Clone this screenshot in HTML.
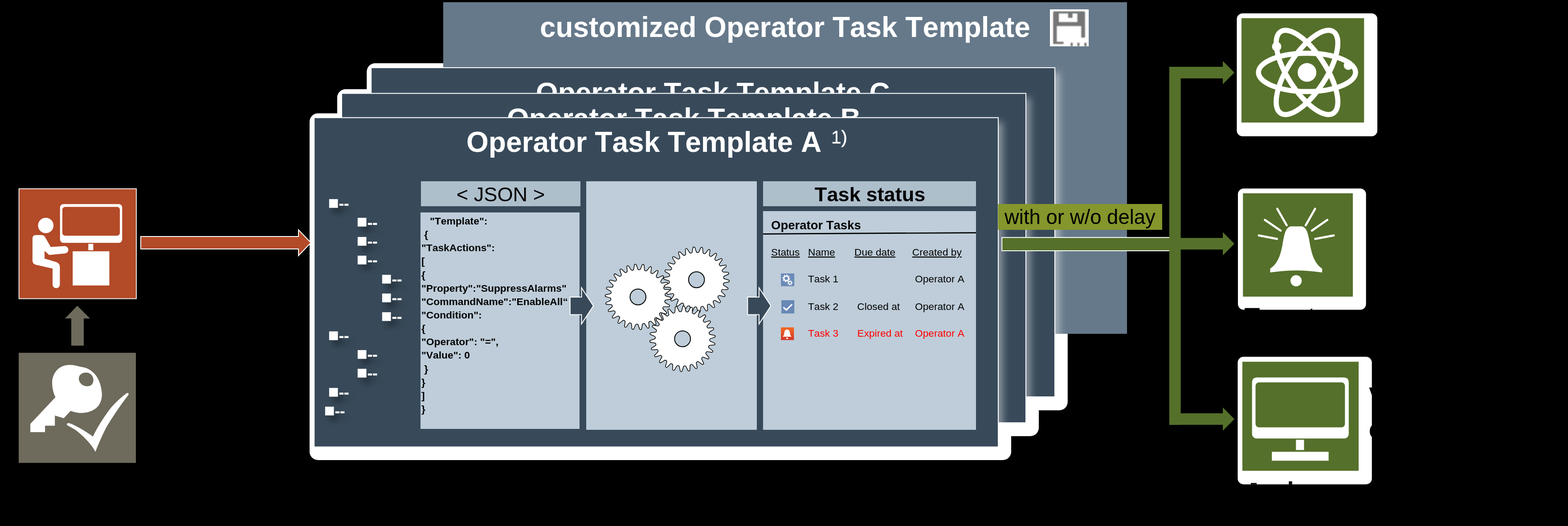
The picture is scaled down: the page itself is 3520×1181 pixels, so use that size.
<!DOCTYPE html>
<html><head><meta charset="utf-8"><title>Operator Task Template</title>
<style>
html,body{margin:0;padding:0;background:#000;}
body{width:3520px;height:1181px;overflow:hidden;position:relative;}
svg{position:absolute;left:0;top:0;display:block;}
body>svg{will-change:transform;}
text{font-family:"Liberation Sans",Arial,sans-serif;font-kerning:none;}
.b{font-weight:bold;}
.u{text-decoration:underline;text-decoration-thickness:1.15px;text-underline-offset:1.6px;}
</style></head><body>
<svg width="3520" height="1181" viewBox="0 0 3520 1181">
<defs>
<filter id="ts" x="-50%" y="-50%" width="250%" height="250%"><feGaussianBlur in="SourceAlpha" stdDeviation="8"/><feOffset dx="9" dy="12"/><feComponentTransfer><feFuncA type="linear" slope="0.4"/></feComponentTransfer><feMerge><feMergeNode/><feMergeNode in="SourceGraphic"/></feMerge></filter>
<linearGradient id="gB" x1="0" x2="1" y1="0" y2="0"><stop offset="0" stop-color="#fff" stop-opacity="0.36"/><stop offset="0.25" stop-color="#fff" stop-opacity="0.22"/><stop offset="0.6" stop-color="#fff" stop-opacity="0.06"/><stop offset="1" stop-color="#fff" stop-opacity="0"/></linearGradient>
<linearGradient id="gC" x1="0" x2="1" y1="0" y2="0"><stop offset="0" stop-color="#fff" stop-opacity="0.4"/><stop offset="0.25" stop-color="#fff" stop-opacity="0.24"/><stop offset="0.6" stop-color="#fff" stop-opacity="0.06"/><stop offset="1" stop-color="#fff" stop-opacity="0"/></linearGradient>
<filter id="pshadow" filterUnits="userSpaceOnUse" x="600" y="100" width="1900" height="1000"><feGaussianBlur stdDeviation="8"/></filter><clipPath id="clipCust"><rect x="995" y="5" width="1535" height="744.5"/></clipPath><clipPath id="clipC"><rect x="833.2" y="152" width="1534.8" height="739"/></clipPath><clipPath id="clipB"><rect x="767" y="209.7" width="1536" height="739.5"/></clipPath><filter id="blur1" x="-10%" y="-10%" width="120%" height="120%"><feGaussianBlur stdDeviation="1.3"/></filter><clipPath id="cSave"><rect x="2357" y="21" width="87" height="83"/></clipPath>
</defs>
<rect width="3520" height="1181" fill="#000"/>

<g fill="#fff">
<rect x="823.3" y="142" width="1573.5" height="779.3" rx="19"/>
<rect x="757" y="200.2" width="1575" height="779" rx="19"/>
<rect x="695" y="254.4" width="1575" height="778.6" rx="19"/>
</g>
<rect x="995" y="5" width="1535" height="744.5" fill="#66798a"/>
<g clip-path="url(#clipCust)"><rect x="843.5" y="162.5" width="1535" height="738" fill="#fff" fill-opacity="0.44" filter="url(#pshadow)"/></g>
<text x="1212" y="82.5" class="b" font-size="63.92" fill="#fff">customized Operator Task Template</text>
<rect x="2357" y="21" width="87" height="83" fill="#fff"/>
<g clip-path="url(#cSave)"><g filter="url(#blur1)" fill="#767676"><path d="M2366.5 25.600 H2433.6 Q2435.8 25.600 2435.8 28 V84.600 H2427.3 V58.5 H2372.4 V93.8 H2387.5 V98.8 H2364.2 V28 Q2364.2 25.600 2366.5 25.600 Z M2377 30.3 V49.5 H2418.600 V30.3 H2407.600 V40 H2397.8 V30.3 Z" fill-rule="evenodd"/><rect x="2403.5" y="96" width="4.600" height="8"/><rect x="2418.600" y="96" width="4.600" height="8"/><rect x="2434.2" y="96" width="5" height="8"/></g></g>
<rect x="833.2" y="152" width="1534.8" height="739" fill="#384a5a" stroke="#fff" stroke-width="2"/>
<svg x="832" y="152" width="1536" height="58" viewBox="832 152 1536 58"><text x="1203" y="228.6" class="b" font-size="63.83" fill="#fff">Operator Task Template C</text></svg>
<g clip-path="url(#clipC)"><rect x="777.5" y="220" width="1536" height="738" fill="#fff" fill-opacity="0.40" filter="url(#pshadow)"/></g>
<rect x="767" y="209.7" width="1536" height="739.5" fill="#384a5a" stroke="#fff" stroke-width="2"/>
<svg x="767" y="208" width="1536" height="58" viewBox="767 208 1536 58"><text x="1138" y="286.5" class="b" font-size="63.83" fill="#fff">Operator Task Template B</text></svg>
<g clip-path="url(#clipB)"><rect x="715.5" y="274.5" width="1536" height="739" fill="#fff" fill-opacity="0.40" filter="url(#pshadow)"/></g>
<rect x="705.2" y="264.2" width="1535.8" height="739.3" fill="#384a5a" stroke="#fff" stroke-width="2"/>
<text x="1047" y="341" class="b" font-size="64.05" fill="#fff">Operator Task Template A</text>
<text x="1866" y="321.6" font-size="40.5" fill="#fff" stroke="#fff" stroke-width="0.5">1)</text>
<g filter="url(#ts)" fill="#fff" class="b">
<text y="469.10"><tspan x="736.57" font-size="40.4">■</tspan><tspan x="760.60" dy="0.2" font-size="36" letter-spacing="-0.75">--</tspan></text>
<text y="511.45"><tspan x="800.57" font-size="40.4">■</tspan><tspan x="824.60" dy="0.2" font-size="36" letter-spacing="-0.75">--</tspan></text>
<text y="553.80"><tspan x="800.57" font-size="40.4">■</tspan><tspan x="824.60" dy="0.2" font-size="36" letter-spacing="-0.75">--</tspan></text>
<text y="596.15"><tspan x="800.57" font-size="40.4">■</tspan><tspan x="824.60" dy="0.2" font-size="36" letter-spacing="-0.75">--</tspan></text>
<text y="638.50"><tspan x="855.57" font-size="40.4">■</tspan><tspan x="879.60" dy="0.2" font-size="36" letter-spacing="-0.75">--</tspan></text>
<text y="680.85"><tspan x="855.57" font-size="40.4">■</tspan><tspan x="879.60" dy="0.2" font-size="36" letter-spacing="-0.75">--</tspan></text>
<text y="723.20"><tspan x="855.57" font-size="40.4">■</tspan><tspan x="879.60" dy="0.2" font-size="36" letter-spacing="-0.75">--</tspan></text>
<text y="765.55"><tspan x="736.57" font-size="40.4">■</tspan><tspan x="760.60" dy="0.2" font-size="36" letter-spacing="-0.75">--</tspan></text>
<text y="807.90"><tspan x="800.57" font-size="40.4">■</tspan><tspan x="824.60" dy="0.2" font-size="36" letter-spacing="-0.75">--</tspan></text>
<text y="850.25"><tspan x="800.57" font-size="40.4">■</tspan><tspan x="824.60" dy="0.2" font-size="36" letter-spacing="-0.75">--</tspan></text>
<text y="892.60"><tspan x="736.57" font-size="40.4">■</tspan><tspan x="760.60" dy="0.2" font-size="36" letter-spacing="-0.75">--</tspan></text>
<text y="934.95"><tspan x="727.57" font-size="40.4">■</tspan><tspan x="751.60" dy="0.2" font-size="36" letter-spacing="-0.75">--</tspan></text>
</g>
<rect x="945" y="407" width="358" height="56" fill="#aebfcc"/>
<text x="1124" y="451.7" font-size="45.2" text-anchor="middle" fill="#000">&lt; JSON &gt;</text>
<rect x="944" y="477" width="357" height="486" fill="#becdd9"/>
<g class="b" font-size="22.8" fill="#000" style="white-space:pre">
<text x="946" y="504.0" xml:space="preserve">   &quot;Template&quot;:</text>
<text x="946" y="534.1" xml:space="preserve"> {</text>
<text x="946" y="564.3" xml:space="preserve">&quot;TaskActions&quot;:</text>
<text x="946" y="594.4" xml:space="preserve">[</text>
<text x="946" y="624.6" xml:space="preserve">{</text>
<text x="946" y="654.7" xml:space="preserve">&quot;Property&quot;:&quot;SuppressAlarms&quot;</text>
<text x="946" y="684.8" xml:space="preserve">&quot;CommandName&quot;:&quot;EnableAll“</text>
<text x="946" y="715.0" xml:space="preserve">&quot;Condition&quot;:</text>
<text x="946" y="745.1" xml:space="preserve">{</text>
<text x="946" y="775.3" xml:space="preserve">&quot;Operator&quot;: &quot;=&quot;,</text>
<text x="946" y="805.4" xml:space="preserve">&quot;Value&quot;: 0</text>
<text x="946" y="835.5" xml:space="preserve"> }</text>
<text x="946" y="865.7" xml:space="preserve">}</text>
<text x="946" y="895.8" xml:space="preserve">]</text>
<text x="946" y="926.0" xml:space="preserve">}</text>
</g>
<rect x="1316" y="407" width="383" height="558" fill="#becdd9"/>
<g fill="#fff" stroke="#000" stroke-width="1.5" stroke-linejoin="round">
<path d="M1422.6 604.1 L1423.8 596.9 C1423.9 592.2 1428.3 591.8 1429.2 596.5 L1431.5 603.4 C1432.2 606.4 1436.9 606.6 1437.9 603.7 L1440.7 596.9 C1442.0 592.3 1446.3 593.0 1446.1 597.8 L1446.7 605.1 C1446.7 608.2 1451.2 609.5 1452.8 606.9 L1457.2 601.0 C1459.5 596.9 1463.5 598.6 1462.2 603.1 L1461.0 610.3 C1460.3 613.3 1464.3 615.7 1466.5 613.5 L1472.2 608.9 C1475.4 605.4 1478.9 608.0 1476.5 612.1 L1473.6 618.8 C1472.2 621.6 1475.6 624.8 1478.3 623.3 L1484.9 620.1 C1488.9 617.6 1491.6 620.9 1488.3 624.3 L1483.9 630.2 C1481.9 632.5 1484.3 636.4 1487.3 635.6 L1494.5 634.1 C1499.0 632.5 1500.8 636.5 1496.8 639.0 L1491.1 643.6 C1488.6 645.4 1490.1 649.8 1493.2 649.7 L1500.5 649.9 C1505.2 649.5 1506.1 653.8 1501.6 655.3 L1494.9 658.4 C1492.1 659.5 1492.4 664.1 1495.5 664.8 L1502.5 666.8 C1507.2 667.5 1507.0 671.8 1502.3 672.2 L1495.1 673.6 C1492.1 674.0 1491.3 678.6 1494.1 680.0 L1500.4 683.6 C1504.8 685.4 1503.6 689.6 1498.9 688.8 L1491.6 688.5 C1488.6 688.1 1486.7 692.4 1489.1 694.4 L1494.4 699.4 C1498.2 702.2 1496.1 706.0 1491.7 704.1 L1484.7 702.1 C1481.8 701.0 1479.0 704.7 1480.8 707.2 L1484.8 713.4 C1487.8 717.0 1484.8 720.2 1481.0 717.3 L1474.7 713.6 C1472.2 711.9 1468.5 714.8 1469.7 717.7 L1472.1 724.6 C1474.2 728.9 1470.5 731.2 1467.5 727.5 L1462.2 722.4 C1460.2 720.1 1456.0 722.1 1456.4 725.2 L1457.1 732.5 C1458.1 737.1 1453.9 738.5 1451.9 734.2 L1448.0 728.0 C1446.6 725.3 1442.0 726.2 1441.8 729.3 L1440.6 736.5 C1440.5 741.2 1436.1 741.6 1435.2 736.9 L1432.9 730.0 C1432.2 727.0 1427.5 726.8 1426.5 729.7 L1423.7 736.5 C1422.4 741.1 1418.1 740.4 1418.3 735.6 L1417.7 728.3 C1417.7 725.2 1413.2 723.9 1411.6 726.5 L1407.2 732.4 C1404.9 736.5 1400.9 734.8 1402.2 730.3 L1403.4 723.1 C1404.1 720.1 1400.1 717.7 1397.9 719.9 L1392.2 724.5 C1389.0 728.0 1385.5 725.4 1387.9 721.3 L1390.8 714.6 C1392.2 711.8 1388.8 708.6 1386.1 710.1 L1379.5 713.3 C1375.5 715.8 1372.8 712.5 1376.1 709.1 L1380.5 703.2 C1382.5 700.9 1380.1 697.0 1377.1 697.8 L1369.9 699.3 C1365.4 700.9 1363.6 696.9 1367.6 694.4 L1373.3 689.8 C1375.8 688.0 1374.3 683.6 1371.2 683.7 L1363.9 683.5 C1359.2 683.9 1358.3 679.6 1362.8 678.1 L1369.5 675.0 C1372.3 673.9 1372.0 669.3 1368.9 668.6 L1361.9 666.6 C1357.2 665.9 1357.4 661.6 1362.1 661.2 L1369.3 659.8 C1372.3 659.4 1373.1 654.8 1370.3 653.4 L1364.0 649.8 C1359.6 648.0 1360.8 643.8 1365.5 644.6 L1372.8 644.9 C1375.8 645.3 1377.7 641.0 1375.3 639.0 L1370.0 634.0 C1366.2 631.2 1368.3 627.4 1372.7 629.3 L1379.7 631.3 C1382.6 632.4 1385.4 628.7 1383.6 626.2 L1379.6 620.0 C1376.6 616.4 1379.6 613.2 1383.4 616.1 L1389.7 619.8 C1392.2 621.5 1395.9 618.6 1394.7 615.7 L1392.3 608.8 C1390.2 604.5 1393.9 602.2 1396.9 605.9 L1402.2 611.0 C1404.2 613.3 1408.4 611.3 1408.0 608.2 L1407.3 600.9 C1406.3 596.3 1410.5 594.9 1412.5 599.2 L1416.4 605.4 C1417.8 608.1 1422.4 607.2 1422.6 604.1Z"/>
<circle cx="1432.2" cy="666.7" r="17.8" fill="#becdd9" stroke-width="2"/>
<path d="M1554.0 565.5 L1555.2 558.3 C1555.3 553.6 1559.7 553.2 1560.6 557.9 L1562.9 564.8 C1563.6 567.8 1568.3 568.0 1569.3 565.1 L1572.1 558.3 C1573.4 553.7 1577.7 554.4 1577.5 559.2 L1578.1 566.5 C1578.1 569.6 1582.6 570.9 1584.2 568.3 L1588.6 562.4 C1590.9 558.3 1594.9 560.0 1593.6 564.5 L1592.4 571.7 C1591.7 574.7 1595.7 577.1 1597.9 574.9 L1603.6 570.3 C1606.8 566.8 1610.3 569.4 1607.9 573.5 L1605.0 580.2 C1603.6 583.0 1607.0 586.2 1609.7 584.7 L1616.3 581.5 C1620.3 579.0 1623.0 582.3 1619.7 585.7 L1615.3 591.6 C1613.3 593.9 1615.7 597.8 1618.7 597.0 L1625.9 595.5 C1630.4 593.9 1632.2 597.9 1628.2 600.4 L1622.5 605.0 C1620.0 606.8 1621.5 611.2 1624.6 611.1 L1631.9 611.3 C1636.6 610.9 1637.5 615.2 1633.0 616.7 L1626.3 619.8 C1623.5 620.9 1623.8 625.5 1626.9 626.2 L1633.9 628.2 C1638.6 628.9 1638.4 633.2 1633.7 633.6 L1626.5 635.0 C1623.5 635.4 1622.7 640.0 1625.5 641.4 L1631.8 645.0 C1636.2 646.8 1635.0 651.0 1630.3 650.2 L1623.0 649.9 C1620.0 649.5 1618.1 653.8 1620.5 655.8 L1625.8 660.8 C1629.6 663.6 1627.5 667.4 1623.1 665.5 L1616.1 663.5 C1613.2 662.4 1610.4 666.1 1612.2 668.6 L1616.2 674.8 C1619.2 678.4 1616.2 681.6 1612.4 678.7 L1606.1 675.0 C1603.6 673.3 1599.9 676.2 1601.1 679.1 L1603.5 686.0 C1605.6 690.3 1601.9 692.6 1598.9 688.9 L1593.6 683.8 C1591.6 681.5 1587.4 683.5 1587.8 686.6 L1588.5 693.9 C1589.5 698.5 1585.3 699.9 1583.3 695.6 L1579.4 689.4 C1578.0 686.7 1573.4 687.6 1573.2 690.7 L1572.0 697.9 C1571.9 702.6 1567.5 703.0 1566.6 698.3 L1564.3 691.4 C1563.6 688.4 1558.9 688.2 1557.9 691.1 L1555.1 697.9 C1553.8 702.5 1549.5 701.8 1549.7 697.0 L1549.1 689.7 C1549.1 686.6 1544.6 685.3 1543.0 687.9 L1538.6 693.8 C1536.3 697.9 1532.3 696.2 1533.6 691.7 L1534.8 684.5 C1535.5 681.5 1531.5 679.1 1529.3 681.3 L1523.6 685.9 C1520.4 689.4 1516.9 686.8 1519.3 682.7 L1522.2 676.0 C1523.6 673.2 1520.2 670.0 1517.5 671.5 L1510.9 674.7 C1506.9 677.2 1504.2 673.9 1507.5 670.5 L1511.9 664.6 C1513.9 662.3 1511.5 658.4 1508.5 659.2 L1501.3 660.7 C1496.8 662.3 1495.0 658.3 1499.0 655.8 L1504.7 651.2 C1507.2 649.4 1505.7 645.0 1502.6 645.1 L1495.3 644.9 C1490.6 645.3 1489.7 641.0 1494.2 639.5 L1500.9 636.4 C1503.7 635.3 1503.4 630.7 1500.3 630.0 L1493.3 628.0 C1488.6 627.3 1488.8 623.0 1493.5 622.6 L1500.7 621.2 C1503.7 620.8 1504.5 616.2 1501.7 614.8 L1495.4 611.2 C1491.0 609.4 1492.2 605.2 1496.9 606.0 L1504.2 606.3 C1507.2 606.7 1509.1 602.4 1506.7 600.4 L1501.4 595.4 C1497.6 592.6 1499.7 588.8 1504.1 590.7 L1511.1 592.7 C1514.0 593.8 1516.8 590.1 1515.0 587.6 L1511.0 581.4 C1508.0 577.8 1511.0 574.6 1514.8 577.5 L1521.1 581.2 C1523.6 582.9 1527.3 580.0 1526.1 577.1 L1523.7 570.2 C1521.6 565.9 1525.3 563.6 1528.3 567.3 L1533.6 572.4 C1535.6 574.7 1539.8 572.7 1539.4 569.6 L1538.7 562.3 C1537.7 557.7 1541.9 556.3 1543.9 560.6 L1547.8 566.8 C1549.2 569.5 1553.8 568.6 1554.0 565.5Z"/>
<circle cx="1563.6" cy="628.1" r="17.8" fill="#becdd9" stroke-width="2"/>
<path d="M1530.4 697.4 L1532.4 690.4 C1533.1 685.7 1537.5 685.9 1537.8 690.6 L1539.3 697.8 C1539.6 700.9 1544.2 701.6 1545.6 698.8 L1549.2 692.5 C1551.1 688.1 1555.2 689.3 1554.4 694.0 L1554.1 701.3 C1553.7 704.4 1558.0 706.2 1560.0 703.8 L1565.1 698.5 C1567.9 694.7 1571.7 696.9 1569.8 701.3 L1567.7 708.3 C1566.6 711.2 1570.3 714.0 1572.8 712.1 L1579.0 708.2 C1582.6 705.2 1585.8 708.2 1582.9 712.0 L1579.2 718.3 C1577.5 720.8 1580.4 724.5 1583.3 723.3 L1590.2 720.9 C1594.5 718.9 1596.8 722.6 1593.1 725.5 L1588.0 730.8 C1585.7 732.8 1587.7 737.0 1590.7 736.6 L1598.0 736.0 C1602.7 735.0 1604.0 739.1 1599.7 741.1 L1593.5 745.0 C1590.8 746.4 1591.7 751.0 1594.8 751.3 L1602.0 752.4 C1606.8 752.6 1607.1 756.9 1602.4 757.9 L1595.5 760.1 C1592.5 760.9 1592.3 765.5 1595.2 766.5 L1602.0 769.4 C1606.5 770.7 1605.8 775.0 1601.1 774.7 L1593.8 775.3 C1590.7 775.3 1589.4 779.8 1592.0 781.5 L1597.9 785.8 C1602.0 788.2 1600.3 792.2 1595.7 790.8 L1588.5 789.6 C1585.5 788.9 1583.2 792.9 1585.3 795.2 L1589.9 800.8 C1593.4 804.1 1590.8 807.6 1586.7 805.1 L1580.0 802.2 C1577.2 800.8 1574.0 804.2 1575.5 806.9 L1578.7 813.5 C1581.2 817.5 1577.8 820.2 1574.4 816.9 L1568.6 812.5 C1566.3 810.4 1562.4 812.9 1563.2 815.9 L1564.7 823.0 C1566.2 827.5 1562.3 829.4 1559.8 825.4 L1555.2 819.7 C1553.4 817.1 1549.0 818.6 1549.1 821.7 L1548.8 829.0 C1549.2 833.7 1545.0 834.6 1543.5 830.1 L1540.4 823.5 C1539.3 820.6 1534.6 821.0 1534.0 824.0 L1532.0 831.0 C1531.3 835.7 1526.9 835.5 1526.6 830.8 L1525.1 823.6 C1524.8 820.5 1520.2 819.8 1518.8 822.6 L1515.2 828.9 C1513.3 833.3 1509.2 832.1 1510.0 827.4 L1510.3 820.1 C1510.7 817.0 1506.4 815.2 1504.4 817.6 L1499.3 822.9 C1496.5 826.7 1492.7 824.5 1494.6 820.1 L1496.7 813.1 C1497.8 810.2 1494.1 807.4 1491.6 809.3 L1485.4 813.2 C1481.8 816.2 1478.6 813.2 1481.5 809.4 L1485.2 803.1 C1486.9 800.6 1484.0 796.9 1481.1 798.1 L1474.2 800.5 C1469.9 802.5 1467.6 798.8 1471.3 795.9 L1476.4 790.6 C1478.7 788.6 1476.7 784.4 1473.7 784.8 L1466.4 785.4 C1461.7 786.4 1460.4 782.3 1464.7 780.3 L1470.9 776.4 C1473.6 775.0 1472.7 770.4 1469.6 770.1 L1462.4 769.0 C1457.6 768.8 1457.3 764.5 1462.0 763.5 L1468.9 761.3 C1471.9 760.5 1472.1 755.9 1469.2 754.9 L1462.4 752.0 C1457.9 750.7 1458.6 746.4 1463.3 746.7 L1470.6 746.1 C1473.7 746.1 1475.0 741.6 1472.4 739.9 L1466.5 735.6 C1462.4 733.2 1464.1 729.2 1468.7 730.6 L1475.9 731.8 C1478.9 732.5 1481.2 728.5 1479.1 726.2 L1474.5 720.6 C1471.0 717.3 1473.6 713.8 1477.7 716.3 L1484.4 719.2 C1487.2 720.6 1490.4 717.2 1488.9 714.5 L1485.7 707.9 C1483.2 703.9 1486.6 701.2 1490.0 704.5 L1495.8 708.9 C1498.1 711.0 1502.0 708.5 1501.2 705.5 L1499.7 698.4 C1498.2 693.9 1502.1 692.0 1504.6 696.0 L1509.2 701.7 C1511.0 704.3 1515.4 702.8 1515.3 699.7 L1515.6 692.4 C1515.2 687.7 1519.4 686.8 1520.9 691.3 L1524.0 697.9 C1525.1 700.8 1529.8 700.4 1530.4 697.4Z"/>
<circle cx="1532.2" cy="760.7" r="17.8" fill="#becdd9" stroke-width="2"/>
</g>
<rect x="1713" y="407" width="478" height="56" fill="#aebfcc"/>
<text x="1953.2" y="451.7" font-size="45.2" class="b" text-anchor="middle" fill="#000">Task status</text>
<rect x="1713" y="474" width="478" height="491" fill="#becdd9"/>
<text x="1731" y="515" font-size="27.5" class="b" fill="#000">Operator Tasks</text>
<path d="M1713 524 L2191 521.2 V523.9 L1713 526.700 Z" fill="#000"/>
<g font-size="22.7" fill="#000">
<text x="1731" y="574" class="u">Status</text><text x="1814" y="574" class="u">Name</text><text x="1918" y="574" class="u">Due date</text><text x="2047.8" y="574" class="u">Created by</text>
<text x="1814" y="634.4">Task 1</text><text x="2054" y="634.4">Operator A</text>
<text x="1814" y="695.7">Task 2</text><text x="1924.3" y="695.7">Closed at</text><text x="2054" y="695.7">Operator A</text>
<g fill="#f00"><text x="1814" y="755.7">Task 3</text><text x="1924.5" y="755.7">Expired at</text><text x="2054" y="755.7">Operator A</text></g>
</g>
<path d="M1279.8 667 h25.6 v-21 l26.6 40.7 l-26.6 40.7 v-21 h-25.600 z" fill="#384a5a" stroke="#fff" stroke-width="2"/>
<path d="M1678.3 667 h25.6 v-21 l26.6 40.7 l-26.6 40.7 v-21 h-25.600 z" fill="#384a5a" stroke="#fff" stroke-width="2"/>
<defs><linearGradient id="gBell" x1="0" x2="0" y1="0" y2="1"><stop offset="0" stop-color="#f26a22"/><stop offset="1" stop-color="#d6352b"/></linearGradient></defs>
<rect x="1753.1" y="614" width="30" height="28.7" fill="#6b8ab8"/>
<g fill="none" stroke="#fff"><circle cx="1765" cy="625" r="5.2" stroke-width="2.8"/><circle cx="1765" cy="625" r="7.4" stroke-width="2.2" stroke-dasharray="2.9 2.91"/><circle cx="1773.5" cy="635" r="3.2" stroke-width="2"/><circle cx="1773.5" cy="635" r="4.8" stroke-width="1.6" stroke-dasharray="1.88 1.89"/></g>
<rect x="1754.2" y="674" width="28.9" height="29.8" fill="#6888b5"/>
<path d="M1758.6 690 L1765.4 696 L1778.2 683.2" fill="none" stroke="#fff" stroke-width="3.3"/>
<rect x="1753.1" y="735" width="29.2" height="28.5" fill="url(#gBell)"/>
<path d="M1767 739.8 c4.6 0 6.2 4 6.400 8.200 c0.300 4 1.800 6.200 3.600 8 h-20 c1.800 -1.800 3.300 -4 3.600 -8 c0.200 -4.200 1.800 -8.200 6.400 -8.200 z" fill="#fff"/><circle cx="1767" cy="759.500" r="2" fill="#fff"/>
<rect x="2240.500" y="458" width="368.500" height="58" fill="#85962c"/>
<text x="2255" y="503.4" font-size="45.5" fill="#000">with or w/o delay</text>
<rect x="2249.2" y="533.2" width="377" height="29.8" fill="#55702a" stroke="#fff" stroke-width="2"/>
<g fill="#55702a">
<rect x="2625" y="150.05" width="25.6" height="803.8"/>
<path d="M2625 150.05 H2745.1 V136.90 L2771 163.00 L2745.1 189.10 V175.95 H2625 z"/>
<path d="M2625 534.35 H2745.1 V521.20 L2771 547.30 L2745.1 573.40 V560.25 H2625 z"/>
<path d="M2625 927.95 H2745.1 V914.80 L2771 940.90 L2745.1 967.00 V953.85 H2625 z"/>
</g>
<rect x="2776.5" y="30" width="315.5" height="276" rx="13" fill="#fff"/>
<rect x="2787" y="40.8" width="275.2" height="234.3" fill="#55702a"/>
<rect x="2779" y="423.2" width="287.6" height="272.4" rx="13" fill="#fff"/>
<rect x="2794.2" y="691.600" width="33.5" height="4.5" fill="#000"/><path d="M2940.5 696 L2945.7 692 V696 Z" fill="#000"/>
<rect x="2790.3" y="434" width="246.7" height="232" fill="#55702a"/>
<rect x="2778.5" y="801.1" width="301.2" height="286.3" rx="13" fill="#fff"/>
<text x="3073" y="914.6" class="b" font-size="64" fill="#000">V</text><text x="3072.4" y="984" class="b" font-size="62" fill="#000">c</text>
<rect x="2808" y="1084.4" width="13" height="3.2" fill="#000"/><rect x="2893.3" y="1080.7" width="7.4" height="7" fill="#000"/>
<rect x="2789" y="812.2" width="261" height="244.8" fill="#55702a"/>
<g fill="none" stroke="#fff" stroke-width="11.5"><ellipse cx="2934.1" cy="162.6" rx="109" ry="43"/><ellipse cx="2934.1" cy="162.6" rx="109" ry="43" transform="rotate(57.2 2934.1 162.6)"/><ellipse cx="2934.1" cy="162.6" rx="109" ry="43" transform="rotate(122.8 2934.1 162.6)"/></g>
<circle cx="2934.1" cy="162.6" r="21" fill="#fff"/><circle cx="2866" cy="104.5" r="10.5" fill="#fff"/><circle cx="3027" cy="146.5" r="10.5" fill="#fff"/>
<g transform="translate(2760 400) scale(0.37037)" fill="#fff">
<path d="M370 292 H440 C470 300 478 340 488 400 C500 470 520 520 562 548 V572 C460 555 350 555 247 572 V548 C290 520 310 470 322 400 C332 340 340 300 370 292 Z"/>
<circle cx="404" cy="622" r="34"/>
<g stroke="#fff" stroke-width="13" stroke-linecap="round"><path d="M290 186 L347 286"/><path d="M519 186 L462 286"/><path d="M215 253 L310 318"/><path d="M593 253 L500 318"/><path d="M178 347 L288 368"/><path d="M632 347 L520 368"/></g>
</g>
<rect x="2810.7" y="847.4" width="217.1" height="137" rx="10" fill="#fff"/><rect x="2818.5" y="858.5" width="200.8" height="101.1" rx="8" fill="#55702a"/>
<rect x="2909.3" y="987.4" width="18.1" height="23" fill="#fff"/><rect x="2855.2" y="1014.4" width="127.4" height="20" fill="#fff"/>
<rect x="42.600" y="423.8" width="263.400" height="246.8" fill="#b34a28" stroke="#fff" stroke-width="1.8"/>
<g transform="translate(0 400) scale(0.34722)" fill="#fff">
<rect x="388" y="168" width="402" height="250" rx="22"/><rect x="403" y="186" width="372" height="186" rx="18" fill="#b34a28"/>
<rect x="571" y="425" width="32" height="41"/><rect x="470" y="473" width="237" height="221"/>
<circle cx="296" cy="306" r="50"/>
<path d="M232 368 H268 Q284 368 292 382 L328 445 L416 439 A24 24 0 0 1 420 487 L318 497 L288 470 V520 L362 542 Q387 550 387 575 V688 A23.5 23.5 0 0 1 340 688 V585 L232 560 Q210 555 210 532 V390 Q210 368 232 368 Z"/>
</g>
<path d="M316 531 H670 V516 L698 545 L670 574 V559 H316 Z" fill="#b34a28" stroke="#fff" stroke-width="2"/>
<rect x="42" y="792.1" width="263" height="247.2" fill="#6e6a5c"/>
<path d="M160 776 V715 H146 L173.500 686.500 L202 715 H188 V776 Z" fill="#6e6a5c"/>
<g transform="translate(50 800) scale(0.26612)" fill="#fff">
<path fill-rule="evenodd" d="M252 220 C252 180 268 140 300 108 C330 82 365 72 400 72 C440 72 470 84 500 90 C545 94 590 120 620 160 C650 200 670 260 672 320 C672 370 655 410 620 440 C580 470 530 480 490 478 C455 476 430 468 408 460 L350 522 L275 500 V585 H192 V640 H68 V570 L280 345 C262 310 252 265 252 220 Z M538 137 C575 137 600 165 600 200 C600 232 580 253 548 253 C510 253 477 225 477 188 C477 158 502 137 538 137 Z"/>
</g>
<g transform="translate(130 870) scale(0.185185)" fill="#fff">
<path d="M108 446 C108 432 125 428 150 436 C250 478 350 540 425 595 C470 500 540 380 640 250 C700 180 770 115 832 70 C848 60 862 72 856 88 C800 160 700 300 600 460 C560 530 500 660 455 780 C420 710 330 605 220 520 C180 492 140 474 120 462 C112 458 108 452 108 446 Z"/>
</g>
</svg></body></html>
